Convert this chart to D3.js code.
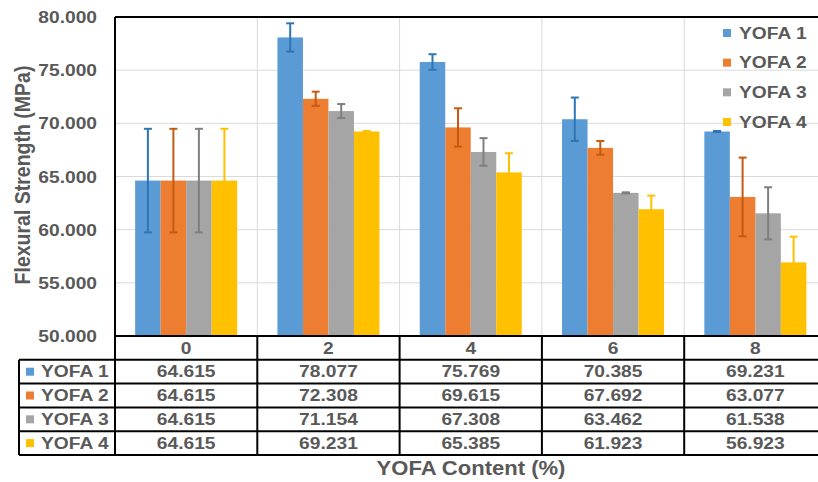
<!DOCTYPE html>
<html>
<head>
<meta charset="utf-8">
<script src="https://cdn.jsdelivr.net/npm/d3@7"></script>
<style>
  html, body { margin: 0; padding: 0; background: #fff; }
  svg { display: block; }
  text { font-family: "Liberation Sans", Arial, sans-serif; font-weight: bold; fill: #595959; }
</style>
</head>
<body>
<svg id="chart" width="818" height="482"></svg>
<script>
// Flexural strength by YOFA content, four mixes
const categories = ["0", "2", "4", "6", "8"];
const seriesNames = ["YOFA 1", "YOFA 2", "YOFA 3", "YOFA 4"];
const yofa1 = [64.615, 78.077, 75.769, 70.385, 69.231];
const yofa2 = [64.615, 72.308, 69.615, 67.692, 63.077];
const yofa3 = [64.615, 71.154, 67.308, 63.462, 61.538];
const yofa4 = [64.615, 69.231, 65.385, 61.923, 56.923];
// standard deviation (± error)
const err1 = [4.87, 1.33, 0.73, 2.04, 0.05];
const err2 = [4.87, 0.67, 1.80, 0.65, 3.70];
const err3 = [4.87, 0.66, 1.30, 0.05, 2.45];
const err4 = [4.87, 0.05, 1.80, 1.28, 2.42];
const yTicks = [50, 55, 60, 65, 70, 75, 80];

const colors = ["#5b9bd5", "#ed7d31", "#a5a5a5", "#ffc000"];
const errColors = ["#2e75b6", "#c55a11", "#7f7f7f", "#ffc000"];

const values = [yofa1, yofa2, yofa3, yofa4];
const errors = [err1, err2, err3, err4];
const rows = seriesNames.map((name, i) => ({ name, i, values: values[i], errors: errors[i] }));

const SX = 1.13;       // horizontal text stretch
const FS = 17;
const fmt = d3.format(".3f");

const svg = d3.select("#chart");

const plotLeft = 115, plotTop = 17, plotBottom = 336, plotRight = 826.5;
const x = d3.scaleBand().domain(categories).range([plotLeft, plotRight]).padding(0);
const x1 = d3.scaleBand().domain(seriesNames).range([0, x.bandwidth()]).paddingInner(0).paddingOuter(0.79);
const y = d3.scaleLinear().domain([50, 80]).range([plotBottom, plotTop]);

function label(parent, px, py, str, opts = {}) {
  const g = parent.append("g")
    .attr("transform", `translate(${px},${py}) scale(${SX},1)` + (opts.rotate ? ` rotate(${opts.rotate})` : ""));
  g.append("text")
    .attr("text-anchor", opts.anchor || "middle")
    .attr("dominant-baseline", "central")
    .style("font-size", (opts.size || FS) + "px")
    .text(str);
  return g;
}

// horizontal gridlines
svg.append("g")
  .selectAll("line")
  .data(yTicks.filter(t => t > 50 && t < 80))
  .join("line")
  .attr("x1", plotLeft).attr("x2", 818)
  .attr("y1", d => y(d)).attr("y2", d => y(d))
  .attr("stroke", "#d9d9d9").attr("stroke-width", 1);

// vertical gridlines at category boundaries
svg.append("g")
  .selectAll("line")
  .data(categories.slice(1))
  .join("line")
  .attr("x1", d => x(d)).attr("x2", d => x(d))
  .attr("y1", plotTop).attr("y2", plotBottom)
  .attr("stroke", "#d9d9d9").attr("stroke-width", 1);

// bars
const groups = svg.append("g")
  .selectAll("g")
  .data(rows)
  .join("g")
  .attr("fill", d => colors[d.i]);

groups.selectAll("rect")
  .data(d => d.values.map((v, k) => ({ s: d.name, i: d.i, cat: categories[k], v, e: d.errors[k] })))
  .join("rect")
  .attr("x", d => x(d.cat) + x1(d.s))
  .attr("width", x1.bandwidth())
  .attr("y", d => y(d.v))
  .attr("height", d => y(50) - y(d.v));

// error bars
const eb = svg.append("g")
  .selectAll("g")
  .data(rows.flatMap(r => r.values.map((v, k) => ({ s: r.name, i: r.i, cat: categories[k], v, e: r.errors[k] }))))
  .join("g")
  .attr("stroke", d => errColors[d.i])
  .attr("stroke-width", 2);

const cx = d => x(d.cat) + x1(d.s) + x1.bandwidth() / 2;
eb.append("line")
  .attr("x1", cx).attr("x2", cx)
  .attr("y1", d => y(d.v + d.e)).attr("y2", d => y(d.v - d.e));
eb.append("line")
  .attr("x1", d => cx(d) - 4).attr("x2", d => cx(d) + 4)
  .attr("y1", d => y(d.v + d.e)).attr("y2", d => y(d.v + d.e));
eb.append("line")
  .attr("x1", d => cx(d) - 4).attr("x2", d => cx(d) + 4)
  .attr("y1", d => y(d.v - d.e)).attr("y2", d => y(d.v - d.e));

// y axis labels
const yAxis = svg.append("g")
  .attr("transform", `translate(${plotLeft},0)`)
  .call(d3.axisLeft(y).tickValues(yTicks).tickFormat(fmt).tickSize(0).tickPadding(0));
yAxis.select(".domain").remove();
yAxis.selectAll("text")
  .attr("x", -18 / SX)
  .attr("dy", null)
  .attr("dominant-baseline", "central")
  .attr("transform", `scale(${SX},1)`)
  .style("font-size", FS + "px")
  .style("font-family", null)
  .attr("fill", "#595959");

// frame: top and left border
svg.append("line").attr("x1", plotLeft).attr("x2", 818).attr("y1", plotTop).attr("y2", plotTop)
  .attr("stroke", "#000").attr("stroke-width", 2);

// data table
const rowBand = d3.scaleBand().domain(["header", ...seriesNames]).range([plotBottom, 455]);
const tableLeft = 19;
const tbl = svg.append("g").attr("stroke", "#000").attr("stroke-width", 2);

// horizontal rules
tbl.selectAll("line.h")
  .data(["header", ...seriesNames])
  .join("line")
  .attr("class", "h")
  .attr("x1", d => d === "header" ? plotLeft : tableLeft)
  .attr("x2", 818)
  .attr("y1", d => rowBand(d)).attr("y2", d => rowBand(d));
tbl.append("line").attr("x1", tableLeft).attr("x2", 818)
  .attr("y1", rowBand.range()[1]).attr("y2", rowBand.range()[1]);

// vertical rules
tbl.append("line").attr("x1", plotLeft).attr("x2", plotLeft).attr("y1", plotTop).attr("y2", 455);
tbl.append("line").attr("x1", tableLeft).attr("x2", tableLeft).attr("y1", rowBand(seriesNames[0])).attr("y2", 455);
tbl.selectAll("line.v")
  .data(categories.slice(1))
  .join("line")
  .attr("class", "v")
  .attr("x1", d => x(d)).attr("x2", d => x(d))
  .attr("y1", plotBottom).attr("y2", 455);

// header labels
categories.forEach(c => {
  label(svg, x(c) + x.bandwidth() / 2, rowBand("header") + rowBand.bandwidth() / 2, c);
});

// table body
rows.forEach(r => {
  const cy = rowBand(r.name) + rowBand.bandwidth() / 2;
  svg.append("rect").attr("x", 26).attr("y", cy - 4).attr("width", 8).attr("height", 8).attr("fill", colors[r.i]);
  label(svg, 41, cy, r.name, { anchor: "start" });
  r.values.forEach((v, k) => {
    label(svg, x(categories[k]) + x.bandwidth() / 2, cy, fmt(v));
  });
});

// legend
const legendY = d3.scalePoint().domain(seriesNames).range([33, 122]);
rows.forEach(r => {
  const ly = legendY(r.name);
  svg.append("rect").attr("x", 723).attr("y", ly - 4).attr("width", 8).attr("height", 8).attr("fill", colors[r.i]);
  label(svg, 739, ly, r.name, { anchor: "start" });
});

// axis titles
label(svg, 471, 468, "YOFA Content (%)", { size: 19.5 });
label(svg, 22, 175, "Flexural Strength (MPa)", { size: 19.5, rotate: -90 });
</script>
</body>
</html>
